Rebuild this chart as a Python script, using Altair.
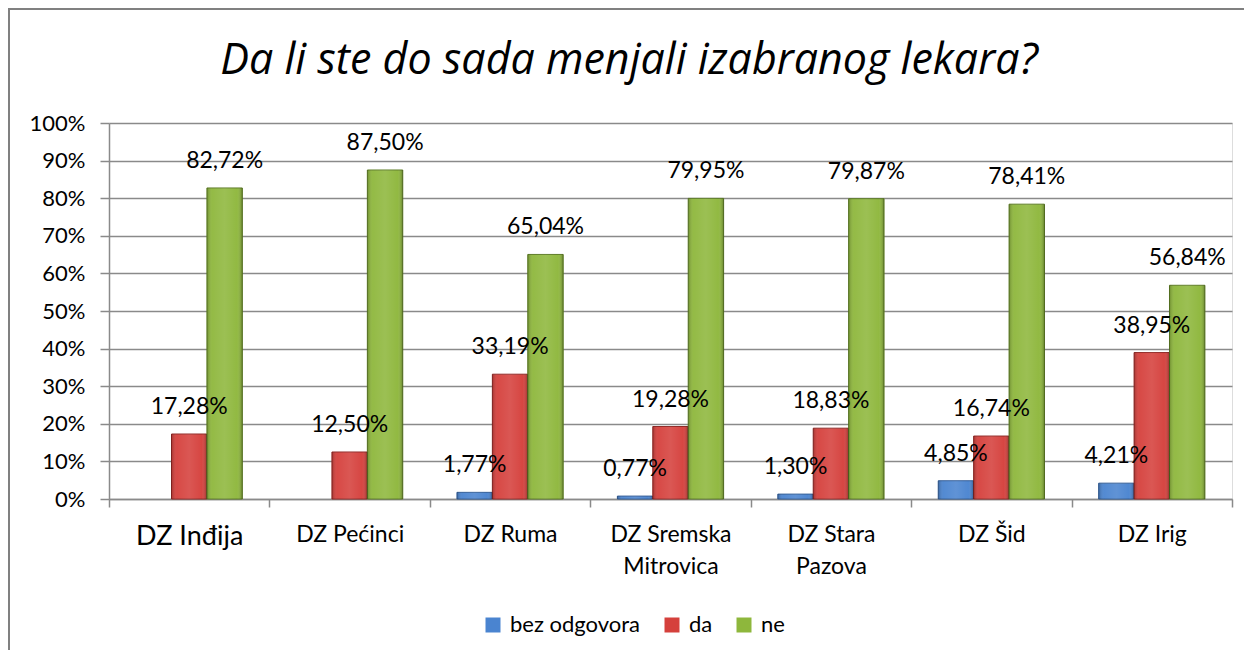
import altair as alt
import pandas as pd

categories = ["DZ Inđija", "DZ Pećinci", "DZ Ruma", "DZ Sremska\nMitrovica",
              "DZ Stara\nPazova", "DZ Šid", "DZ Irig"]
series = ["bez odgovora", "da", "ne"]
bez_odgovora = [None, None, 1.77, 0.77, 1.30, 4.85, 4.21]
da = [17.28, 12.50, 33.19, 19.28, 18.83, 16.74, 38.95]
ne = [82.72, 87.50, 65.04, 79.95, 79.87, 78.41, 56.84]
y_ticks = [0, 10, 20, 30, 40, 50, 60, 70, 80, 90, 100]
colors = ["#4A84D0", "#D5403C", "#8EB73C"]
edge_colors = ["#2F5A94", "#8E2522", "#5B7A22"]
title_text = "Da li ste do sada menjali izabranog lekara?"

FONT = "Lato"
GRAY = "#8a8a8a"

rows = []
for s, vals in zip(series, [bez_odgovora, da, ne]):
    for c, v in zip(categories, vals):
        if v is not None:
            rows.append({"cat": c, "series": s, "value": v})
df = pd.DataFrame(rows)

W, H = 1123, 376

x_enc = alt.X(
    "cat:N", sort=categories,
    scale=alt.Scale(paddingInner=0, paddingOuter=0),
    axis=alt.Axis(
        title=None, labelAngle=0, tickBand="extent", tickSize=8,
        tickColor=GRAY, tickWidth=1.5, domainColor=GRAY, domainWidth=1.5,
        labelExpr="split(datum.label, '\\n')", labelLineHeight=32,
        labelFont=FONT, labelColor="black", labelPadding=16,
        labelBaseline="top",
        labelFontSize={"condition": {"test": "datum.value == 'DZ Inđija'", "value": 27}, "value": 23},
    ),
)
xoff = alt.XOffset("series:N", sort=series,
                   scale=alt.Scale(domain=series, paddingOuter=0.765, paddingInner=0))
y_enc = alt.Y(
    "value:Q", scale=alt.Scale(domain=[0, 100], nice=False),
    axis=alt.Axis(
        title=None, values=y_ticks, labelExpr="datum.value + '%'",
        tickSize=9, tickColor=GRAY, tickWidth=1.5, labelPadding=15,
        grid=True, gridColor=GRAY, gridWidth=1.5, labelOverlap=False,
        domainColor=GRAY, domainWidth=1.5,
        labelFont=FONT, labelFontSize=22, labelColor="black",
    ),
)

base = alt.Chart(df)

bars = base.mark_bar(strokeWidth=1).encode(
    x=x_enc, xOffset=xoff, y=y_enc,
    color=alt.Color(
        "series:N", sort=series,
        scale=alt.Scale(domain=series, range=colors),
        legend=alt.Legend(
            orient="none", legendX=373, legendY=491, direction="horizontal",
            title=None, symbolType="square", symbolSize=225,
            symbolStrokeWidth=0, labelFont=FONT, labelFontSize=22,
            labelColor="black", columnPadding=20, labelOffset=6,
        ),
    ),
    stroke=alt.Stroke("series:N", scale=alt.Scale(domain=series, range=edge_colors), legend=None),
)

shade = base.mark_bar(
    fill=alt.LinearGradient(
        gradient="linear", x1=0, y1=0, x2=1, y2=0,
        stops=[
            alt.GradientStop(offset=0, color="rgba(0,0,0,0.22)"),
            alt.GradientStop(offset=0.15, color="rgba(255,255,255,0.05)"),
            alt.GradientStop(offset=0.5, color="rgba(255,255,255,0.12)"),
            alt.GradientStop(offset=0.85, color="rgba(255,255,255,0.03)"),
            alt.GradientStop(offset=1, color="rgba(0,0,0,0.28)"),
        ],
    )
).encode(x=x_enc, xOffset=xoff, y=y_enc)

labels = base.transform_calculate(
    label="replace(format(datum.value, '.2f'), '.', ',') + '%'"
).mark_text(baseline="alphabetic", dy=-20, font=FONT, fontSize=23, color="black").encode(
    x=x_enc, xOffset=xoff, y=y_enc, text="label:N"
)

title = alt.Chart(pd.DataFrame({"t": [title_text]})).mark_text(
    font="Open Sans", fontSize=43, fontStyle="italic", color="black",
    align="center", baseline="alphabetic"
).encode(text="t:N", x=alt.value(520), y=alt.value(-49))

frame_df = pd.DataFrame({"a": [0]})
border_left = alt.Chart(frame_df).mark_rule(color="#808080", strokeWidth=2).encode(
    x=alt.value(-100), y=alt.value(-114), y2=alt.value(540))
border_top = alt.Chart(frame_df).mark_rule(color="#808080", strokeWidth=2).encode(
    x=alt.value(-101), x2=alt.value(1200), y=alt.value(-114))

chart = alt.layer(bars, shade, labels, title, border_left, border_top).properties(
    width=W, height=H,
    padding={"left": 101, "top": 115, "right": 12, "bottom": 151},
    autosize=alt.AutoSizeParams(type="none"),
).configure_view(stroke=None).configure(background="white")

chart.save("out.html", embed_options={"renderer": "svg", "actions": False})
